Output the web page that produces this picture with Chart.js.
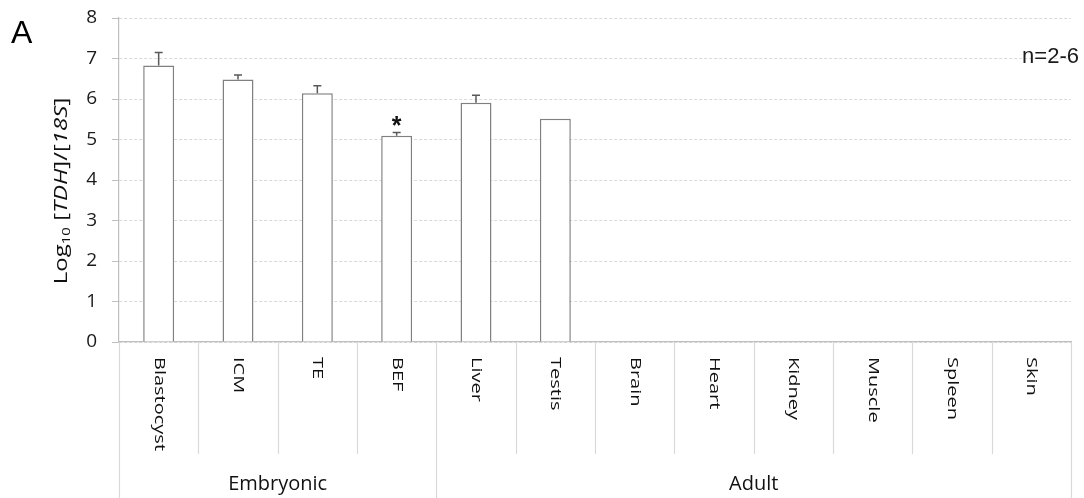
<!DOCTYPE html>
<html>
<head>
<meta charset="utf-8">
<script src="https://cdn.jsdelivr.net/npm/chart.js@4.4.0/dist/chart.umd.min.js"></script>
<style>
  html, body { margin: 0; padding: 0; background: #fff; }
  #wrap { position: relative; width: 1084px; height: 498px; }
</style>
</head>
<body>
<div id="wrap"><canvas id="chart" width="1084" height="498"></canvas></div>
<script>
// data
const categories = ["Blastocyst", "ICM", "TE", "BEF", "Liver", "Testis", "Brain", "Heart", "Kidney", "Muscle", "Spleen", "Skin"];
const groups = ["Embryonic", "Adult"];
const groupSizes = [4, 8];
const logValues = [6.83, 6.48, 6.14, 5.09, 5.91, 5.51, null, null, null, null, null, null];
const errValues = [0.32, 0.11, 0.19, 0.08, 0.18, null, null, null, null, null, null, null];
const marks = ["", "", "", "*", "", "", "", "", "", "", "", ""];
const yMin = 0;
const yMax = 8;

const LINE = "#d9d9d9";
const FONT = "'Open Sans'";

// draw text rotated, squeezed across its height
function drawRotated(ctx, parts, x, y, angle, squeeze, align) {
	ctx.save();
	ctx.translate(x, y);
	ctx.rotate(angle);
	ctx.scale(1, squeeze);
	let total = 0;
	parts.forEach((p) => {
		ctx.font = p.font;
		total += ctx.measureText(p.text).width;
	});
	let pos = align === "center" ? -total / 2 : 0;
	ctx.textAlign = "left";
	parts.forEach((p) => {
		ctx.font = p.font;
		ctx.textBaseline = p.baseline || "alphabetic";
		ctx.fillText(p.text, pos, p.dy || 0);
		pos += ctx.measureText(p.text).width;
	});
	ctx.restore();
}

const decor = {
	id: "decor",
	afterDatasetsDraw(chart) {
		const ctx = chart.ctx;
		const xs = chart.scales.x;
		const ys = chart.scales.y;
		ctx.save();
		ctx.strokeStyle = "#595959";
		ctx.lineWidth = 1.5;
		logValues.forEach((v, i) => {
			if (v === null) return;
			const x = xs.getPixelForValue(i);
			let top = ys.getPixelForValue(v);
			if (errValues[i] !== null) {
				top = ys.getPixelForValue(v + errValues[i]);
				ctx.beginPath();
				ctx.moveTo(x, ys.getPixelForValue(v));
				ctx.lineTo(x, top);
				ctx.moveTo(x - 4, top);
				ctx.lineTo(x + 4, top);
				ctx.stroke();
			}
			if (marks[i]) {
				ctx.fillStyle = "#111";
				ctx.font = "bold 25px 'Liberation Sans'";
				ctx.textAlign = "center";
				ctx.textBaseline = "alphabetic";
				ctx.fillText(marks[i], x, top + 1);
			}
		});
		ctx.restore();
	},
	afterDraw(chart) {
		const ctx = chart.ctx;
		const xs = chart.scales.x;
		const area = chart.chartArea;
		const bottom = area.bottom;
		const h = chart.height;

		ctx.save();
		// separators under the axis
		ctx.strokeStyle = LINE;
		ctx.lineWidth = 1.2;
		let edges = [];
		let k = 0;
		groupSizes.forEach((n) => { edges.push(k); k += n; });
		edges.push(k);
		for (let i = 0; i <= categories.length; i++) {
			let x;
			if (i === 0) x = area.left;
			else if (i === categories.length) x = area.right;
			else x = (xs.getPixelForValue(i - 1) + xs.getPixelForValue(i)) / 2;
			const full = edges.indexOf(i) !== -1;
			ctx.beginPath();
			ctx.moveTo(Math.round(x) + 0.5, bottom);
			ctx.lineTo(Math.round(x) + 0.5, full ? h : bottom + 112);
			ctx.stroke();
		}

		// category labels, top to bottom
		ctx.fillStyle = "#111";
		categories.forEach((c, i) => {
			drawRotated(ctx, [{ text: c, font: "20px " + FONT, baseline: "middle" }],
				xs.getPixelForValue(i), bottom + 15, Math.PI / 2, 0.72, "left");
		});

		// group labels
		ctx.font = "20px " + FONT;
		ctx.textAlign = "center";
		ctx.textBaseline = "middle";
		groups.forEach((g, gi) => {
			const a = edges[gi], b = edges[gi + 1];
			const left = a === 0 ? area.left : (xs.getPixelForValue(a - 1) + xs.getPixelForValue(a)) / 2;
			const right = b === categories.length ? area.right : (xs.getPixelForValue(b - 1) + xs.getPixelForValue(b)) / 2;
			ctx.fillText(g, (left + right) / 2, 484);
		});

		// y title
		drawRotated(ctx, [
			{ text: "Log", font: "24px " + FONT },
			{ text: "10", font: "15px " + FONT, dy: 4 },
			{ text: " [", font: "24px " + FONT },
			{ text: "TDH", font: "italic 24px " + FONT },
			{ text: "]/[", font: "24px " + FONT },
			{ text: "18S", font: "italic 24px " + FONT },
			{ text: "]", font: "24px " + FONT },
		], 67, 191, -Math.PI / 2, 0.75, "center");

		// panel letter and n
		ctx.fillStyle = "#000";
		ctx.textAlign = "left";
		ctx.textBaseline = "alphabetic";
		ctx.font = "32px 'Liberation Sans'";
		ctx.fillText("A", 11, 43);
		ctx.textAlign = "right";
		ctx.font = "22px 'Liberation Sans'";
		ctx.fillStyle = "#1a1a1a";
		ctx.fillText("n=2-6", 1079, 63);
		ctx.restore();
	},
};

new Chart(document.getElementById("chart"), {
	type: "bar",
	data: {
		labels: categories,
		datasets: [
			{
				data: logValues,
				backgroundColor: "#ffffff",
				borderColor: "#808080",
				borderWidth: 1.5,
				barPercentage: 0.39,
				categoryPercentage: 1,
			},
		],
	},
	options: {
		responsive: false,
		animation: false,
		layout: { padding: { top: 18, right: 13, left: 0, bottom: 0 } },
		plugins: {
			legend: { display: false },
			tooltip: { enabled: false },
		},
		scales: {
			x: {
				grid: { display: false },
				border: { display: true, color: "#bfbfbf", width: 1.2 },
				ticks: { display: false },
				afterFit: (scale) => { scale.height = 156; },
			},
			y: {
				min: yMin,
				max: yMax,
				ticks: {
					stepSize: 1,
					color: "#1a1a1a",
					font: { family: "Open Sans", size: 19 },
					padding: 15,
				},
				grid: {
					color: LINE,
					tickColor: "#bfbfbf",
					tickLength: 7,
					tickBorderDash: [],
				},
				border: { display: true, color: "#bfbfbf", width: 1.2, dash: [3, 2] },
				afterFit: (scale) => {
					scale.width = 119;
					scale.paddingTop = 0;
					scale.paddingBottom = 0;
				},
			},
		},
	},
	plugins: [decor],
});
</script>
</body>
</html>
